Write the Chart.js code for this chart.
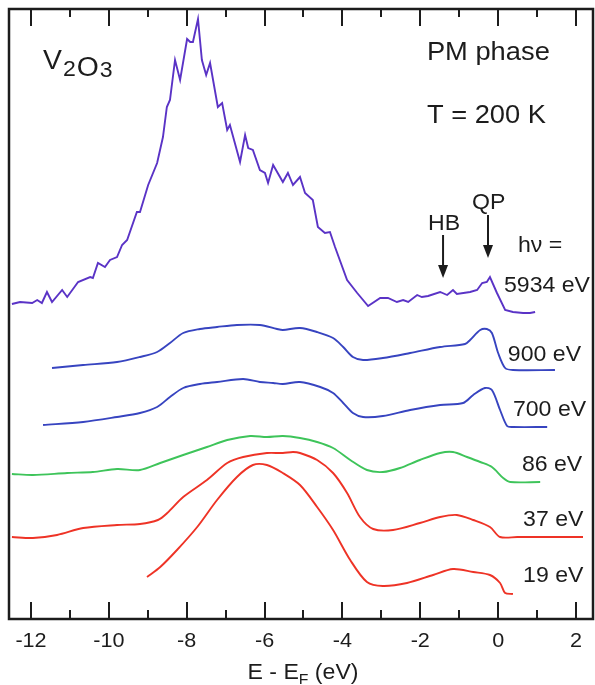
<!DOCTYPE html>
<html>
<head>
<meta charset="utf-8">
<script src="https://cdn.jsdelivr.net/npm/chart.js@4/dist/chart.umd.min.js"></script>
<style>
    html, body { margin: 0; padding: 0; background: #fff; }
    #wrap { width: 595px; height: 685px; }
</style>
</head>
<body>
<div id="wrap"><canvas id="spectra" width="595" height="685"></canvas></div>
<script>
// E - E_F (eV) and intensity (arb. units, curves already offset) for each photon energy
const e5934 = [-12.49, -12.28, -11.97, -11.84, -11.72, -11.59, -11.46, -11.20, -11.07, -10.79, -10.48, -10.41,
    -10.28, -10.10, -9.97, -9.79, -9.66, -9.53, -9.28, -9.20, -8.99, -8.76, -8.61, -8.51, -8.43, -8.30, -8.17,
    -7.99, -7.91, -7.84, -7.71, -7.61, -7.50, -7.40, -7.20, -7.09, -6.96, -6.89, -6.63, -6.50, -6.42, -6.30,
    -6.12, -5.99, -5.91, -5.78, -5.53, -5.40, -5.27, -5.09, -4.96, -4.76, -4.63, -4.45, -4.32, -4.19, -3.88,
    -3.62, -3.34, -3.03, -2.83, -2.60, -2.44, -2.31, -2.08, -1.96, -1.80, -1.49, -1.31, -1.16, -1.06, -0.72,
    -0.54, -0.41, -0.29, -0.21, -0.03, 0.18, 0.38, 0.64, 0.82, 0.95];
const i5934 = [315, 317, 316, 319, 316, 327, 317, 329, 322, 337, 342, 341,
    356, 352, 359, 362, 374, 379, 407, 407, 434, 456, 482, 512, 519, 559, 539,
    580, 577, 577, 600, 559, 544, 556, 512, 516, 489, 494, 457, 484, 471, 469,
    449, 446, 436, 454, 437, 446, 434, 442, 426, 419, 392, 386, 387, 372, 339,
    326, 313, 321, 321, 317, 319, 317, 324, 322, 323, 327, 324, 329, 325, 327,
    329, 336, 337, 342, 326, 309, 307, 306, 306, 307];

const e900 = [-11.46, -10.66, -9.79, -9.20, -8.76, -8.43, -8.09, -7.66, -7.22, -6.71, -6.12, -5.68, -5.53,
    -5.09, -4.65, -4.24, -3.98, -3.73, -3.47, -2.96, -2.26, -1.49, -0.85, -0.72, -0.46, -0.29, -0.16,
    0.00, 0.18, 0.38, 1.46];
const i900 = [251, 254, 257, 262, 267, 276, 286, 290, 292, 294, 294, 290, 289,
    291, 287, 281, 272, 262, 259, 261, 266, 272, 275, 279, 289, 290, 286,
    266, 251, 249, 249];

const e700 = [-11.69, -10.66, -9.79, -9.20, -8.76, -8.43, -8.09, -7.66, -7.22, -6.55, -6.12, -5.78, -5.53,
    -5.09, -4.57, -4.24, -3.98, -3.73, -3.47, -2.96, -2.26, -1.49, -0.90, -0.64, -0.34, -0.16, 0.05,
    0.23, 0.38, 1.26];
const i700 = [194, 197, 202, 206, 212, 222, 231, 235, 237, 240, 237, 236, 235,
    237, 232, 226, 216, 206, 202, 203, 209, 214, 216, 224, 231, 229, 209,
    193, 192, 192];

const e86 = [-12.49, -11.95, -11.07, -10.41, -9.79, -9.20, -8.68, -8.09, -7.48, -6.96, -6.37, -5.94, -5.53,
    -5.09, -4.65, -4.24, -3.80, -3.37, -2.96, -2.52, -2.01, -1.49, -1.16, -0.80, -0.46, -0.16, 0.13,
    0.31, 1.08];
const i86 = [145, 144, 146, 147, 150, 149, 156, 164, 172, 179, 183, 182, 183,
    181, 177, 171, 159, 149, 147, 151, 159, 166, 167, 162, 157, 152, 141,
    137, 137];

const e37 = [-12.49, -11.95, -11.33, -10.66, -9.79, -9.20, -8.74, -8.50, -8.09, -7.48, -6.96, -6.55, -5.94,
    -5.53, -5.27, -5.09, -4.65, -4.24, -3.88, -3.55, -3.21, -2.70, -2.01, -1.49, -1.06, -0.64, -0.21,
    0.05, 0.49, 2.18];
const i37 = [82, 81, 84, 91, 94, 95, 99, 106, 122, 139, 156, 162, 166,
    166, 167, 166, 159, 146, 126, 102, 90, 89, 96, 102, 104, 99, 92,
    82, 82, 82];

const e19 = [-9.02, -8.68, -8.25, -7.73, -7.22, -6.71, -6.30, -5.94, -5.53, -5.09, -4.65, -4.24, -3.80,
    -3.37, -2.96, -2.34, -1.67, -1.16, -0.64, -0.21, 0.05, 0.18, 0.38];
const i19 = [42, 52, 69, 92, 119, 142, 154, 154, 146, 134, 112, 89, 59,
    37, 33, 36, 44, 50, 47, 44, 36, 26, 25];

const xTicks = [-12, -10, -8, -6, -4, -2, 0, 2];
const xMinorTicks = [-11, -9, -7, -5, -3, -1, 1];

const FONT = "'Liberation Sans', Arial, Helvetica, sans-serif";
const INK = '#1c1c1c';

function toPoints(xs, ys) {
    return xs.map((x, i) => ({ x: x, y: ys[i] }));
}

function series(xs, ys, color, smooth) {
    return {
        data: toPoints(xs, ys),
        borderColor: color,
        borderWidth: 1.9,
        pointRadius: 0,
        fill: false,
        tension: smooth ? 0.3 : 0
    };
}

// text with a slight horizontal stretch, like the original lettering
function drawText(ctx, str, px, py, size, align, stretch) {
    const k = stretch || 1.05;
    ctx.save();
    ctx.font = size + 'px ' + FONT;
    ctx.fillStyle = INK;
    ctx.textBaseline = 'alphabetic';
    const w = ctx.measureText(str).width * k;
    let left = px;
    if (align === 'center') left = px - w / 2;
    if (align === 'right') left = px - w;
    ctx.translate(left, py);
    ctx.scale(k, 1);
    ctx.textAlign = 'left';
    ctx.fillText(str, 0, 0);
    ctx.restore();
    return w;
}

function drawArrow(ctx, x, y0, y1) {
    ctx.save();
    ctx.strokeStyle = INK;
    ctx.fillStyle = INK;
    ctx.lineWidth = 2;
    ctx.beginPath();
    ctx.moveTo(x, y0);
    ctx.lineTo(x, y1 - 10);
    ctx.stroke();
    ctx.beginPath();
    ctx.moveTo(x - 5, y1 - 13);
    ctx.lineTo(x + 5, y1 - 13);
    ctx.lineTo(x, y1);
    ctx.closePath();
    ctx.fill();
    ctx.restore();
}

const frameAndLabels = {
    id: 'frameAndLabels',
    afterDraw(chart) {
        const ctx = chart.ctx;
        const area = chart.chartArea;
        const xs = chart.scales.x;
        const ys = chart.scales.y;
        const X = v => xs.getPixelForValue(v);
        const Y = v => ys.getPixelForValue(v);

        // frame
        ctx.save();
        ctx.strokeStyle = INK;
        ctx.lineWidth = 2.5;
        ctx.strokeRect(area.left, area.top, area.right - area.left, area.bottom - area.top);

        // inward ticks, top and bottom
        ctx.lineWidth = 2;
        ctx.beginPath();
        xTicks.forEach(v => {
            const px = Math.round(X(v));
            ctx.moveTo(px, area.bottom); ctx.lineTo(px, area.bottom - 17);
            ctx.moveTo(px, area.top); ctx.lineTo(px, area.top + 17);
        });
        xMinorTicks.forEach(v => {
            const px = Math.round(X(v));
            ctx.moveTo(px, area.bottom); ctx.lineTo(px, area.bottom - 9);
            ctx.moveTo(px, area.top); ctx.lineTo(px, area.top + 8);
        });
        ctx.stroke();
        ctx.restore();

        // tick labels
        xTicks.forEach(v => {
            drawText(ctx, String(v), X(v), area.bottom + 28, 20, 'center', 1.08);
        });

        // axis title E - E_F (eV)
        const cx = (area.left + area.right) / 2 + 2;
        ctx.save();
        ctx.font = '22px ' + FONT;
        const w1 = ctx.measureText('E - E').width;
        const w3 = ctx.measureText(' (eV)').width;
        ctx.font = '15px ' + FONT;
        const w2 = ctx.measureText('F').width;
        ctx.restore();
        const tw = (w1 + w2 + w3) * 1.05;
        let tx = cx - tw / 2;
        const ty = area.bottom + 60;
        tx += drawText(ctx, 'E - E', tx, ty, 22, 'left');
        tx += drawText(ctx, 'F', tx, ty + 5, 15, 'left');
        drawText(ctx, ' (eV)', tx, ty, 22, 'left');

        // V2O3
        let vx = X(-11.69);
        vx += drawText(ctx, 'V', vx, Y(550), 27, 'left');
        vx += drawText(ctx, '2', vx + 1, Y(543), 22, 'left') + 1;
        vx += drawText(ctx, 'O', vx + 1, Y(543), 27, 'left') + 1;
        drawText(ctx, '3', vx + 1, Y(542), 22, 'left');

        drawText(ctx, 'PM phase', X(-1.83), Y(559), 26, 'left');
        drawText(ctx, 'T = 200 K', X(-1.83), Y(496), 26, 'left');

        drawText(ctx, 'HB', X(-1.80), Y(389), 22, 'left');
        drawText(ctx, 'QP', X(-0.67), Y(410), 22, 'left');
        drawArrow(ctx, X(-1.415), Y(384), Y(341));
        drawArrow(ctx, X(-0.26), Y(404), Y(361));

        drawText(ctx, 'hν =', X(0.51), Y(367), 22, 'left');
        drawText(ctx, '5934 eV', X(0.15), Y(327), 22, 'left');
        drawText(ctx, '900 eV', X(0.25), Y(258), 22, 'left');
        drawText(ctx, '700 eV', X(0.38), Y(203), 22, 'left');
        drawText(ctx, '86 eV', X(0.61), Y(148), 22, 'left');
        drawText(ctx, '37 eV', X(0.64), Y(93), 22, 'left');
        drawText(ctx, '19 eV', X(0.64), Y(37), 22, 'left');
    }
};

new Chart(document.getElementById('spectra'), {
    type: 'line',
    data: {
        datasets: [
            series(e5934, i5934, '#5a33c6', false),
            series(e900, i900, '#3744c0', true),
            series(e700, i700, '#3744c0', true),
            series(e86, i86, '#3ec45a', true),
            series(e37, i37, '#ee3326', true),
            series(e19, i19, '#ee3326', true)
        ]
    },
    options: {
        responsive: false,
        animation: false,
        layout: { padding: { left: 9, top: 9, right: 2, bottom: 66 } },
        plugins: {
            legend: { display: false },
            tooltip: { enabled: false }
        },
        scales: {
            x: { type: 'linear', display: false, min: -12.565, max: 2.437 },
            y: { type: 'linear', display: false, min: 0, max: 610 }
        }
    },
    plugins: [frameAndLabels]
});
</script>
</body>
</html>
